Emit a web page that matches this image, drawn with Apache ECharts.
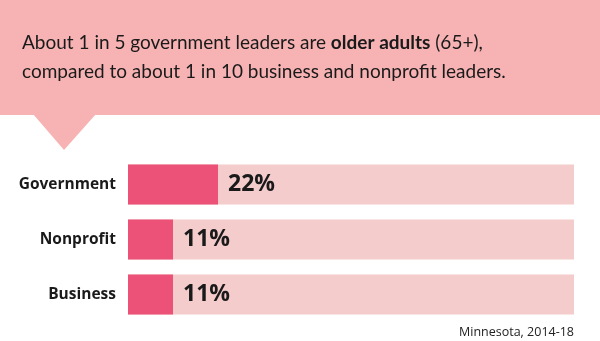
<!DOCTYPE html>
<html><head><meta charset="utf-8">
<script src="https://cdn.jsdelivr.net/npm/echarts@6/dist/echarts.min.js"></script>
<style>html,body{margin:0;padding:0;background:#fff}#c{width:600px;height:341px}</style>
</head><body><div id="c"></div>
<script>
const categories = ['Government', 'Nonprofit', 'Business'];
const values = [22, 11, 11];
const titleLine1 = 'About 1 in 5 government leaders are ';
const titleBold = 'older adults';
const titleLine1End = ' (65+),';
const titleLine2 = 'compared to about 1 in 10 business and nonprofit leaders.';
const note = 'Minnesota, 2014-18';

const TFONT = 'Lato';
const FONT = 'Open Sans';
const chart = echarts.init(document.getElementById('c'));
chart.setOption({
  animation: false,
  graphic: [
    { type: 'rect', shape: { x: 0, y: 0, width: 600, height: 115 }, style: { fill: '#F7B3B3' }, z: -1 },
    { type: 'polygon', shape: { points: [[33, 114], [96, 114], [64, 150]] }, style: { fill: '#F7B3B3' }, z: -1 }
  ],
  title: [{
    left: 22, top: 28, padding: 0,
    text: titleLine1 + '{b|' + titleBold + '}' + titleLine1End + '\n' + titleLine2,
    textStyle: {
      fontFamily: TFONT, fontSize: 19, fontWeight: 'normal', color: '#1a1a1a', lineHeight: 29,
      rich: { b: { fontFamily: TFONT, fontSize: 19, fontWeight: 'bold', color: '#1a1a1a', lineHeight: 29 } }
    }
  }, {
    right: 26, top: 326, padding: 0,
    text: note,
    textStyle: { fontFamily: FONT, fontSize: 12.5, fontWeight: 'normal', color: '#222' }
  }],
  grid: { left: 128, right: 26, top: 157, height: 165 },
  xAxis: { type: 'value', min: 0, max: 109, show: false },
  yAxis: {
    type: 'category', data: categories, inverse: true,
    axisLine: { show: false }, axisTick: { show: false },
    axisLabel: { margin: 12, fontFamily: FONT, fontSize: 15.5, fontWeight: 'bold', color: '#1a1a1a' }
  },
  series: [{
    type: 'bar', data: values, barWidth: 40,
    itemStyle: { color: '#EC5277' },
    showBackground: true,
    backgroundStyle: { color: '#F5CCCC' },
    label: {
      show: true, position: 'right', distance: 10, formatter: '{c}%',
      fontFamily: FONT, fontSize: 23, fontWeight: 'bold', color: '#1a1a1a'
    }
  }]
});
</script></body></html>
